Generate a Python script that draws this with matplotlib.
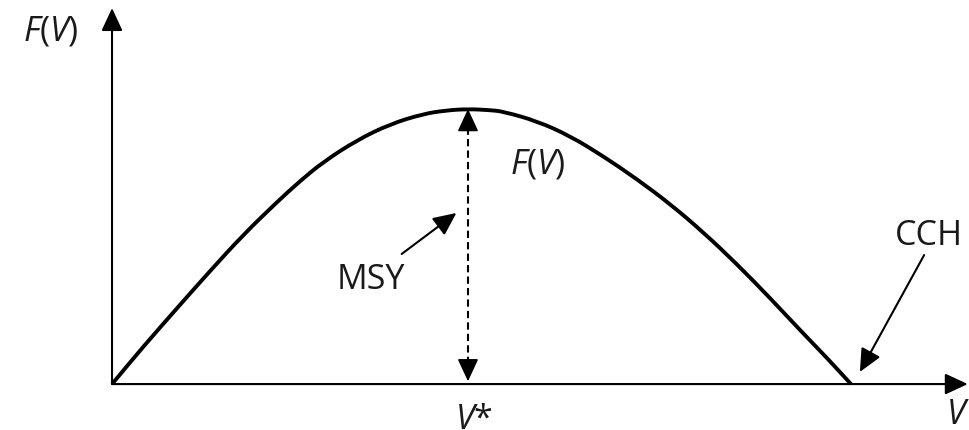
import matplotlib
matplotlib.use("Agg")
import matplotlib.pyplot as plt
from matplotlib.path import Path
from matplotlib.patches import PathPatch

# growth curve F(V) (V scaled so that CCH = 100, MSY = 1)
V = [0.0, 4.19, 8.80, 13.26, 17.73, 22.33, 25.44, 28.55, 33.15, 37.62,
     42.08, 45.20, 48.17, 51.15, 52.91, 57.51, 61.98, 66.44, 71.04, 75.51,
     79.97, 84.57, 89.04, 93.50, 96.75, 100.0]
F = [0.0, 0.135, 0.276, 0.411, 0.542, 0.662, 0.738, 0.807, 0.887, 0.945,
     0.982, 0.995, 1.0, 0.996, 0.991, 0.956, 0.902, 0.829, 0.745, 0.655,
     0.553, 0.436, 0.313, 0.185, 0.095, 0.0]

V_star = 48.17
MSY = 1.0
CCH = 100.0
V_axis_end = 115.8
F_axis_end = 1.367

plt.rcParams["font.family"] = ["Open Sans", "DejaVu Sans"]
plt.rcParams["mathtext.fontset"] = "custom"
plt.rcParams["mathtext.rm"] = "Open Sans"
plt.rcParams["mathtext.it"] = "Open Sans:italic"

TXT = "#1a1a1a"
FS = 24.5


def arrow(ax, start, end, lw=1.5, hl=14.0, hw=6.5):
    ax.annotate("", xy=end, xytext=start,
                arrowprops=dict(arrowstyle=f"-|>,head_length={hl},head_width={hw}",
                                mutation_scale=1, lw=lw, color="black",
                                shrinkA=0, shrinkB=0))


def smooth_path(xs, ys):
    # quadratic bezier through the midpoints, data points as control points
    pts = list(zip(xs, ys))
    verts = [pts[0]]
    codes = [Path.MOVETO]
    mid = lambda a, b: ((a[0] + b[0]) / 2, (a[1] + b[1]) / 2)
    verts.append(mid(pts[0], pts[1]))
    codes.append(Path.LINETO)
    for i in range(1, len(pts) - 1):
        verts += [pts[i], mid(pts[i], pts[i + 1])]
        codes += [Path.CURVE3, Path.CURVE3]
    verts.append(pts[-1])
    codes.append(Path.LINETO)
    return Path(verts, codes)


def run():
    fig = plt.figure(figsize=(9.69, 4.31), dpi=100)
    ax = fig.add_axes([0, 0, 1, 1])
    ax.set_xlim(-15.16, 115.97)
    ax.set_ylim(-0.167, 1.4)
    ax.axis("off")

    # axes with arrow heads
    arrow(ax, (0, 0), (V_axis_end, 0))
    arrow(ax, (0, 0), (0, F_axis_end))

    # growth curve
    ax.add_patch(PathPatch(smooth_path(V, F), fill=False, edgecolor="black",
                           lw=2.8, capstyle="butt", joinstyle="round", zorder=3))

    # MSY double arrow (dashed shaft, solid heads)
    head = 0.073
    ax.plot([V_star, V_star], [head, MSY - head], color="black", lw=1.5,
            linestyle=(0, (3.5, 2.0)))
    arrow(ax, (V_star, MSY - head), (V_star, MSY), lw=1.2)
    arrow(ax, (V_star, head), (V_star, 0.01), lw=1.2)

    # labels
    ax.text(-12.0, 1.2545, r"$F(V)$", fontsize=FS, color=TXT, ha="left", va="baseline")
    ax.text(53.9, 0.771, r"$F(V)$", fontsize=FS, color=TXT, ha="left", va="baseline")
    ax.text(30.4, 0.349, "MSY", fontsize=FS, color=TXT, ha="left", va="baseline")
    ax.text(106.0, 0.509, "CCH", fontsize=FS, color=TXT, ha="left", va="baseline")
    ax.text(46.4, -0.158, r"$V$*", fontsize=FS, color=TXT, ha="left", va="baseline")
    ax.text(112.9, -0.142, r"$V$", fontsize=FS, color=TXT, ha="left", va="baseline")

    # pointer arrows
    arrow(ax, (39.2, 0.473), (46.6, 0.622), lw=1.5)
    arrow(ax, (109.9, 0.469), (101.2, 0.044), lw=1.5)

    fig.savefig("out.png", dpi=100)


if __name__ == "__main__":
    run()
